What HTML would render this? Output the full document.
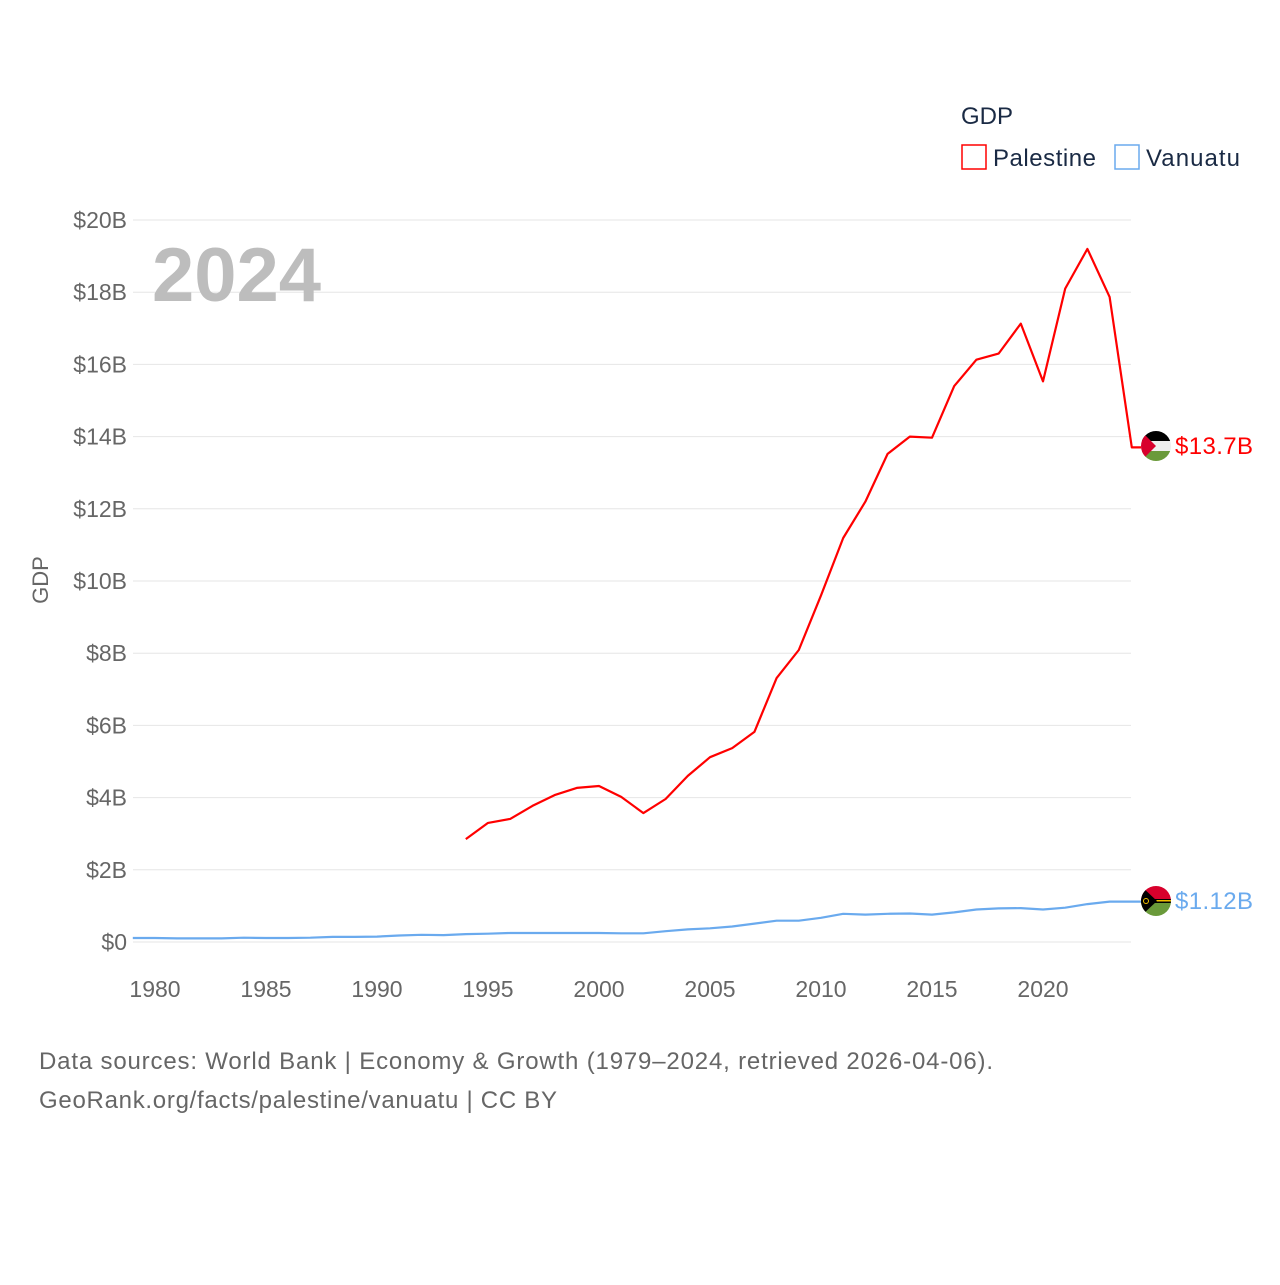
<!DOCTYPE html>
<html><head><meta charset="utf-8"><style>
body{margin:0;background:#fff;font-family:"Liberation Sans",sans-serif}
svg text{font-family:"Liberation Sans",sans-serif}
</style></head><body>
<svg id="chart" width="1280" height="1280" viewBox="0 0 1280 1280">
<g id="grid"></g>
<g id="yticks"></g>
<g id="xticks"></g>
<text x="48" y="580" transform="rotate(-90 48 580)" text-anchor="middle" font-size="22" fill="#666">GDP</text>
<text x="152" y="301" font-size="76" font-weight="bold" fill="#bdbdbd">2024</text>
<text x="961" y="124" font-size="24" fill="#1a2a44">GDP</text>
<g><rect x="962" y="145" width="24" height="24" fill="none" stroke="#f00" stroke-width="1.5"/><text x="993" y="166" font-size="24" fill="#1a2a44" textLength="103">Palestine</text></g>
<g><rect x="1115" y="145" width="24" height="24" fill="none" stroke="#6aaaee" stroke-width="1.5"/><text x="1146" y="166" font-size="24" fill="#1a2a44" textLength="94">Vanuatu</text></g>
<g id="series"></g>
<defs>
<clipPath id="c1"><circle cx="1156" cy="446" r="15"/></clipPath>
<clipPath id="c2"><circle cx="1156" cy="901" r="15"/></clipPath>
</defs>
<g clip-path="url(#c1)">
<rect x="1140" y="430" width="32" height="11" fill="#000"/><rect x="1140" y="441" width="32" height="10" fill="#eee"/><rect x="1140" y="451" width="32" height="12" fill="#6a9a3a"/><polygon points="1140,430 1156,446 1140,462" fill="#d8002c"/>
</g>
<g clip-path="url(#c2)">
<rect x="1140" y="885" width="32" height="16" fill="#d8002c"/><rect x="1140" y="901" width="32" height="16" fill="#6a9a3a"/><rect x="1140" y="899" width="32" height="4" fill="#000"/><rect x="1140" y="900" width="32" height="1.5" fill="#f0c000"/><polygon points="1140,885 1157,901 1140,917" fill="#000"/><circle cx="1146" cy="901" r="2.5" fill="none" stroke="#f0c000" stroke-width="1"/>
</g>
<text x="1175" y="454" font-size="24" fill="#f00" textLength="78">$13.7B</text>
<text x="1175" y="909" font-size="24" fill="#6aaaee" textLength="78">$1.12B</text>
<text x="39" y="1069" font-size="24" fill="#666" textLength="954">Data sources: World Bank | Economy &amp; Growth (1979–2024, retrieved 2026-04-06).</text>
<text x="39" y="1108" font-size="24" fill="#666" textLength="518">GeoRank.org/facts/palestine/vanuatu | CC BY</text>
</svg>
<script>
const yTicks=[0,2,4,6,8,10,12,14,16,18,20];
const yTickLabels=["$0","$2B","$4B","$6B","$8B","$10B","$12B","$14B","$16B","$18B","$20B"];
const xTicks=[1980,1985,1990,1995,2000,2005,2010,2015,2020];
const palYears=[1994,1995,1996,1997,1998,1999,2000,2001,2002,2003,2004,2005,2006,2007,2008,2009,2010,2011,2012,2013,2014,2015,2016,2017,2018,2019,2020,2021,2022,2023,2024];
const palValues=[2.85,3.3,3.41,3.77,4.07,4.27,4.32,4.02,3.57,3.96,4.6,5.12,5.37,5.82,7.31,8.09,9.6,11.19,12.2,13.52,14.0,13.97,15.4,16.13,16.3,17.13,15.53,18.1,19.2,17.87,13.7];
const vanYears=[1979,1980,1981,1982,1983,1984,1985,1986,1987,1988,1989,1990,1991,1992,1993,1994,1995,1996,1997,1998,1999,2000,2001,2002,2003,2004,2005,2006,2007,2008,2009,2010,2011,2012,2013,2014,2015,2016,2017,2018,2019,2020,2021,2022,2023,2024];
const vanValues=[0.11,0.11,0.1,0.1,0.1,0.12,0.11,0.11,0.12,0.14,0.14,0.15,0.18,0.2,0.19,0.22,0.23,0.25,0.25,0.25,0.25,0.25,0.24,0.24,0.3,0.35,0.38,0.43,0.51,0.59,0.59,0.67,0.78,0.76,0.78,0.79,0.76,0.82,0.9,0.93,0.94,0.9,0.95,1.05,1.12,1.12];
const NS="http://www.w3.org/2000/svg";
const X=y=>155+(y-1980)*22.2;
const Y=v=>942-v*36.1;
function mk(t,a,p){const e=document.createElementNS(NS,t);for(const k in a)e.setAttribute(k,a[k]);p.appendChild(e);return e;}
const grid=document.getElementById('grid'),yt=document.getElementById('yticks'),xt=document.getElementById('xticks'),ser=document.getElementById('series');
yTicks.forEach((v,i)=>{
 const l=mk('line',{x1:133,x2:1131,y1:Y(v),y2:Y(v),stroke:'#e6e6e6','stroke-width':1},grid);
 
 
 const t=mk('text',{x:127,y:Y(v)+8,'text-anchor':'end','font-size':23,fill:'#666'},yt);
 t.textContent=yTickLabels[i];
 
 
});
xTicks.forEach(v=>{
 const t=mk('text',{x:X(v),y:997,'text-anchor':'middle','font-size':23,fill:'#666'},xt);
 t.textContent=v;
 
 
});
function line(ys,vs,col,name,endX){
 let d=ys.map((y,i)=>(i?'L':'M')+X(y).toFixed(1)+','+Y(vs[i]).toFixed(1)).join(' ');
 d+=' L'+endX+','+Y(vs[vs.length-1]).toFixed(1);
 const p=mk('path',{d:d,fill:'none',stroke:col,'stroke-width':2.2,'stroke-linejoin':'round'},ser);
 
 
}
line(palYears,palValues,'#f00','palestine-line',1142);
line(vanYears,vanValues,'#6aaaee','vanuatu-line',1142);
</script>
</body></html>
